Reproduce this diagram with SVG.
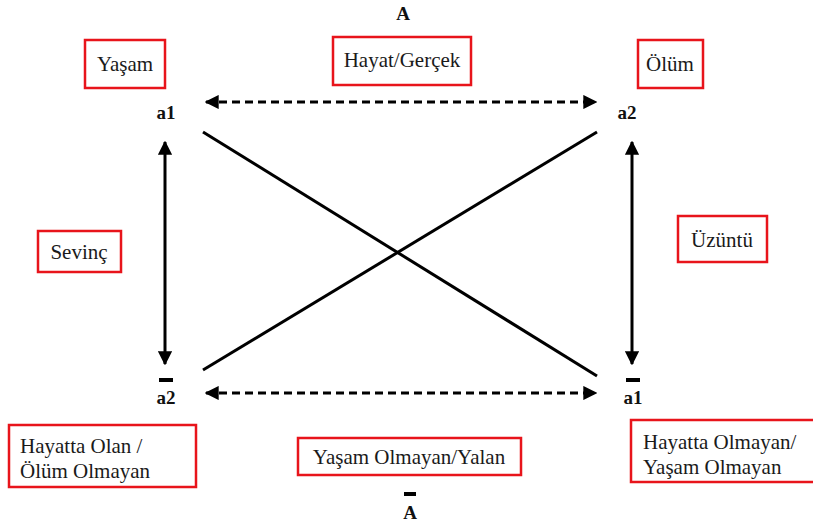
<svg xmlns="http://www.w3.org/2000/svg" width="813" height="527" viewBox="0 0 813 527">
<style>
.box{fill:#fff;stroke:#e8141b;stroke-width:2.5}
.t{font-family:'Liberation Serif','Times New Roman',serif;font-size:21px;fill:#1a1a1a}
.b{font-family:'Liberation Serif','Times New Roman',serif;font-size:19px;font-weight:bold;fill:#111}
.ln{stroke:#000;stroke-width:3;fill:none}
.dash{stroke:#000;stroke-width:3;fill:none;stroke-dasharray:8,5}
</style>
<defs>
<marker id="ah" viewBox="0 0 10 10" refX="9" refY="5" markerWidth="4.7" markerHeight="4.7" orient="auto-start-reverse" markerUnits="strokeWidth">
<path d="M0,0 L10,5 L0,10 z" fill="#000"/>
</marker>
</defs>
<text class="b" x="403" y="20" text-anchor="middle">A</text>
<g id="n-yasam"><rect class="box" x="85" y="40" width="80" height="48"/><text class="t" x="125" y="71" text-anchor="middle">Yaşam</text></g>
<g id="n-hayat"><rect class="box" x="333" y="37" width="138" height="48"/><text class="t" x="402" y="67" text-anchor="middle">Hayat/Gerçek</text></g>
<g id="n-olum"><rect class="box" x="638" y="40" width="65" height="48"/><text class="t" x="670" y="71" text-anchor="middle">Ölüm</text></g>
<g id="n-a1"><text class="b" x="166" y="119" text-anchor="middle">a1</text></g>
<g id="n-a2"><text class="b" x="627" y="119" text-anchor="middle">a2</text></g>
<g id="n-sevinc"><rect class="box" x="38" y="231" width="83" height="41"/><text class="t" x="79" y="259" text-anchor="middle">Sevinç</text></g>
<g id="n-uzuntu"><rect class="box" x="678" y="216" width="89" height="46"/><text class="t" x="722" y="247" text-anchor="middle">Üzüntü</text></g>
<g id="n-a2bar"><rect x="159" y="378" width="14" height="4" fill="#000"/><text class="b" x="166" y="404" text-anchor="middle">a2</text></g>
<g id="n-a1bar"><rect x="626" y="378" width="14" height="4" fill="#000"/><text class="b" x="633" y="404" text-anchor="middle">a1</text></g>
<g id="n-hayattaolan"><rect class="box" x="9" y="425" width="187" height="62"/><text class="t" x="20" y="453">Hayatta Olan /</text><text class="t" x="20" y="478">Ölüm Olmayan</text></g>
<g id="n-yalan"><rect class="box" x="298" y="438" width="223" height="37"/><text class="t" x="409" y="464" text-anchor="middle">Yaşam Olmayan/Yalan</text></g>
<g id="n-hayattaolmayan"><rect class="box" x="631" y="420" width="184" height="62"/><text class="t" x="643" y="449">Hayatta Olmayan/</text><text class="t" x="643" y="474">Yaşam Olmayan</text></g>
<g id="n-abar"><rect x="404" y="492" width="12" height="4" fill="#000"/><text class="b" x="410" y="519" text-anchor="middle">A</text></g>
<g id="connectors">
<line class="dash" x1="206" y1="102" x2="596" y2="102" marker-start="url(#ah)" marker-end="url(#ah)"/>
<line class="dash" x1="206" y1="393" x2="596" y2="393" marker-start="url(#ah)" marker-end="url(#ah)"/>
<line class="ln" x1="203" y1="132" x2="597" y2="376"/>
<line class="ln" x1="597" y1="132" x2="203" y2="370"/>
<line class="ln" x1="165" y1="142" x2="165" y2="364" marker-start="url(#ah)" marker-end="url(#ah)"/>
<line class="ln" x1="632" y1="142" x2="632" y2="364" marker-start="url(#ah)" marker-end="url(#ah)"/>
</g>
</svg>
